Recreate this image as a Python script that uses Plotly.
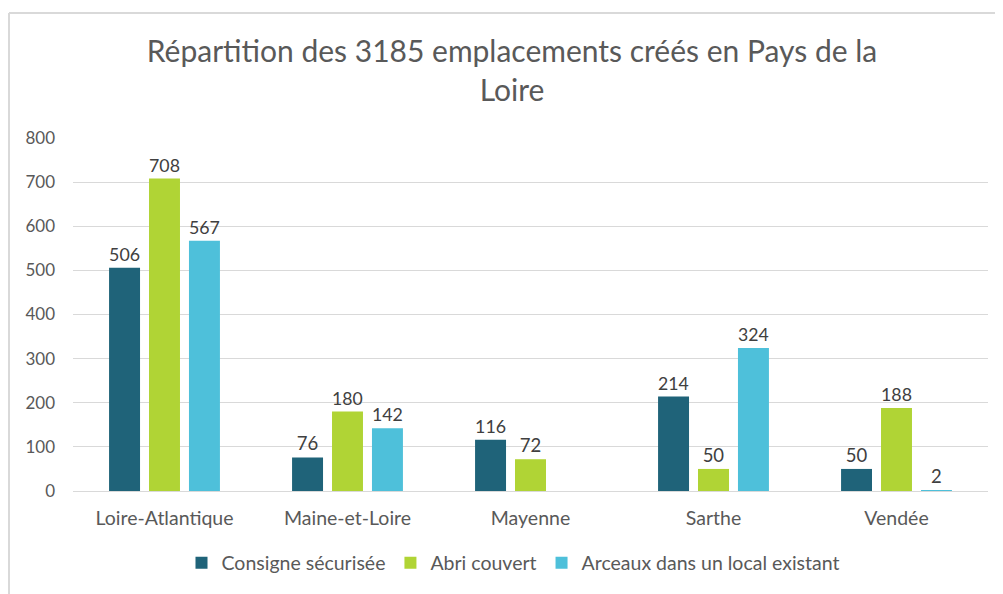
import plotly.graph_objects as go

categories = ["Loire-Atlantique", "Maine-et-Loire", "Mayenne", "Sarthe", "Vendée"]
series_names = ["Consigne sécurisée", "Abri couvert", "Arceaux dans un local existant"]
consigne = [506, 76, 116, 214, 50]
abri = [708, 180, 72, 50, 188]
arceaux = [567, 142, None, 324, 2]
colors = ["#1F6379", "#B0D435", "#4EC0DA"]
title_text = "Répartition des 3185 emplacements créés en Pays de la<br>Loire"

FONT = "Lato, 'Open Sans', sans-serif"
# page has an 8px body margin, so figure is sized to fit the window
W, H = 995, 586
L, R, T, B = 65, 15, 130, 103

fig = go.Figure()
for name, vals, col in zip(series_names, [consigne, abri, arceaux], colors):
    fig.add_trace(go.Bar(
        x=categories, y=vals, name=name,
        marker=dict(color=col, line=dict(width=0)),
        text=[("" if v is None else str(v)) for v in vals],
        textposition="outside",
        textfont=dict(family=FONT, size=18.5, color="#404040"),
        cliponaxis=False,
    ))

pw = W - L - R
ph = H - T - B
fx = (1 - L) / pw
fy = 1 + (T - 5) / ph

fig.update_layout(
    width=W, height=H,
    margin=dict(l=L, r=R, t=T, b=B, autoexpand=False),
    paper_bgcolor="white", plot_bgcolor="white",
    barmode="group", bargap=0.345, bargroupgap=0.225,
    font=dict(family=FONT, color="#595959"),
    title=dict(text=title_text, x=504 / W, xanchor="center", xref="container",
               y=1 - 54 / H, yanchor="top", yref="container",
               font=dict(family=FONT, size=30, color="#595959")),
    showlegend=True,
    legend=dict(orientation="h", x=505 / W, xanchor="center", xref="container",
                y=1 - 555 / H, yanchor="middle", yref="container",
                font=dict(family=FONT, size=19.5, color="#595959"),
                itemwidth=30, traceorder="normal"),
    xaxis=dict(showgrid=False, showline=False, ticks="",
               tickfont=dict(family=FONT, size=19.5, color="#595959"),
               ticklabelstandoff=13),
    yaxis=dict(range=[0, 800], dtick=100, showgrid=True, gridcolor="#D9D9D9",
               gridwidth=1, zeroline=True, zerolinecolor="#D9D9D9", zerolinewidth=1,
               showline=False, ticks="",
               tickfont=dict(family=FONT, size=17, color="#595959"),
               ticklabelstandoff=17),
    shapes=[
        dict(type="line", xref="paper", yref="paper", x0=fx, x1=fx, y0=-1, y1=fy,
             line=dict(color="#D9D9D9", width=2)),
        dict(type="line", xref="paper", yref="paper", x0=fx, x1=1.1, y0=fy, y1=fy,
             line=dict(color="#D9D9D9", width=2)),
    ],
)

fig.write_html("out.html")
